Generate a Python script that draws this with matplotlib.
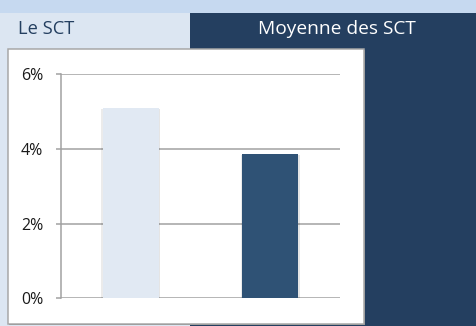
import matplotlib
matplotlib.use("Agg")
import matplotlib.pyplot as plt
from matplotlib.patches import Rectangle
from matplotlib.ticker import FuncFormatter
import matplotlib.patheffects as pe

plt.rcParams['font.family'] = ['Open Sans', 'DejaVu Sans']

# Data
categories = ["Le SCT", "Moyenne des SCT"]
values = [0.051, 0.0386]
bar_colors = ["#E1E9F3", "#2F5275"]
yticks = [0.0, 0.02, 0.04, 0.06]

W, H = 477, 326
PT = 72 / 100  # points per pixel at 100 dpi
fig = plt.figure(figsize=(W / 100, H / 100), dpi=100)
fig.patch.set_facecolor("#DCE6F2")


def px_rect(x0, y0, x1, y1, **kw):
    """Rectangle in pixel coordinates measured from the top-left corner."""
    r = Rectangle((x0 / W, 1 - y1 / H), (x1 - x0) / W, (y1 - y0) / H,
                  transform=fig.transFigure, **kw)
    fig.patches.append(r)
    return r


# Header bands and panels
px_rect(0, 0, W, 13, facecolor="#C6D9F0", edgecolor="none", zorder=0)
px_rect(0, 13, 190, H, facecolor="#DCE6F2", edgecolor="none", zorder=0)
px_rect(190, 13, W, H, facecolor="#243F60", edgecolor="none", zorder=0)

# White chart frame with a slight shadow
px_rect(9, 50, 365.5, 324.5, facecolor="#8C8C8C", edgecolor="none", zorder=1)
px_rect(8, 49, 364.5, 323.5, facecolor="white", edgecolor="#A6A6A6",
        linewidth=1.5 * PT, zorder=2)

fig.text(18 / W, 1 - 28.5 / H, categories[0], fontsize=13.2, color="#243F60",
         ha="left", va="center")
fig.text(337 / W, 1 - 28.5 / H, categories[1], fontsize=13.8, color="white",
         ha="center", va="center")

# Plot area
ax_l, ax_r, ax_t, ax_b = 61, 340, 74, 298.3
ax = fig.add_axes([ax_l / W, 1 - ax_b / H, (ax_r - ax_l) / W, (ax_b - ax_t) / H])
ax.patch.set_alpha(0)
ax.set_zorder(3)

x = list(range(len(values)))
bars = ax.bar(x, values, width=0.4, color=bar_colors, zorder=3)
for b in bars:
    b.set_path_effects([pe.SimplePatchShadow(offset=(1.2, -0.8), shadow_rgbFace="black",
                                             alpha=0.10),
                        pe.SimplePatchShadow(offset=(-1.2, -0.8), shadow_rgbFace="black",
                                             alpha=0.08),
                        pe.Normal()])

ax.set_xlim(-0.5, 1.5)
ax.set_ylim(0, 0.06)
ax.set_yticks(yticks)
ax.yaxis.set_major_formatter(FuncFormatter(lambda v, _: f"{v * 100:.0f}%"))
ax.grid(axis="y", color="#A0A0A0", linewidth=1.5 * PT, zorder=1)
ax.set_axisbelow(True)
ax.set_xticks([])
for s in ["top", "right", "bottom"]:
    ax.spines[s].set_visible(False)
ax.spines["left"].set_color("#A0A0A0")
ax.spines["left"].set_linewidth(1.5 * PT)
ax.tick_params(axis="y", length=5 * PT, width=1.5 * PT, color="#A0A0A0",
               pad=13 * PT, labelsize=11.5, labelcolor="#1A1A1A")

fig.savefig("out.png", dpi=100)
